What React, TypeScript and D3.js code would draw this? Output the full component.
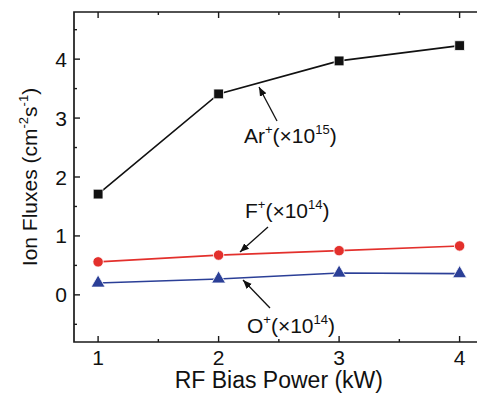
import { useEffect, useRef } from 'react';
import * as d3 from 'd3';

const powers = [1, 2, 3, 4];
const arFlux = [1.71, 3.41, 3.97, 4.23];
const fFlux = [0.56, 0.675, 0.75, 0.83];
const oFlux = [0.2, 0.27, 0.37, 0.36];
const xTicks = [1, 2, 3, 4];
const yTicks = [0, 1, 2, 3, 4];

const W = 477;
const H = 397;
const FONT = '"Liberation Sans", Arial, sans-serif';

export default function App() {
  const ref = useRef<SVGSVGElement>(null);

  useEffect(() => {
    if (!ref.current) return;
    const svg = d3.select(ref.current);
    svg.selectAll('*').remove();

    const left = 74, right = 483.7, top = 12, bottom = 342;
    const x = d3.scaleLinear().domain([0.8, 4.2]).range([left, right]);
    const y = d3.scaleLinear().domain([-0.8, 4.8]).range([bottom, top]);

    const defs = svg.append('defs');
    defs.append('marker')
      .attr('id', 'arrow')
      .attr('viewBox', '0 0 10 10')
      .attr('refX', 10)
      .attr('refY', 5)
      .attr('markerWidth', 9)
      .attr('markerHeight', 9)
      .attr('markerUnits', 'userSpaceOnUse')
      .attr('orient', 'auto')
      .append('path')
      .attr('d', 'M0,1 L10,5 L0,9 Z')
      .attr('fill', '#111');

    const axisColor = '#1a1a1a';
    // frame (right side falls outside the picture)
    svg.append('path')
      .attr('d', `M${right},${top} H${left} V${bottom} H${right}`)
      .attr('fill', 'none')
      .attr('stroke', axisColor)
      .attr('stroke-width', 1.7);

    const xMinor = d3.range(1.5, 4.2, 1);
    const yMinor = d3.range(-0.5, 4.8, 1);
    const ticks = svg.append('g').attr('stroke', axisColor).attr('stroke-width', 1.4);
    xTicks.forEach((t) => {
      ticks.append('line').attr('x1', x(t)).attr('x2', x(t)).attr('y1', bottom).attr('y2', bottom - 6);
      ticks.append('line').attr('x1', x(t)).attr('x2', x(t)).attr('y1', top).attr('y2', top + 6);
    });
    xMinor.forEach((t) => {
      ticks.append('line').attr('x1', x(t)).attr('x2', x(t)).attr('y1', bottom).attr('y2', bottom - 3);
      ticks.append('line').attr('x1', x(t)).attr('x2', x(t)).attr('y1', top).attr('y2', top + 3);
    });
    yTicks.forEach((t) => {
      ticks.append('line').attr('x1', left).attr('x2', left + 6).attr('y1', y(t)).attr('y2', y(t));
    });
    yMinor.forEach((t) => {
      ticks.append('line').attr('x1', left).attr('x2', left + 3).attr('y1', y(t)).attr('y2', y(t));
    });

    const labels = svg.append('g').attr('font-family', FONT).attr('fill', '#111');
    xTicks.forEach((t) => {
      labels.append('text').attr('x', x(t)).attr('y', 365).attr('text-anchor', 'middle')
        .attr('font-size', 21).text(t);
    });
    yTicks.forEach((t) => {
      labels.append('text').attr('x', 67).attr('y', y(t) + 7.5).attr('text-anchor', 'end')
        .attr('font-size', 21).text(t);
    });

    labels.append('text').attr('x', (left + right) / 2).attr('y', 388).attr('text-anchor', 'middle')
      .attr('font-size', 23).text('RF Bias Power (kW)');

    const yt = labels.append('text')
      .attr('transform', `translate(37,${(top + bottom) / 2}) rotate(-90)`)
      .attr('text-anchor', 'middle')
      .attr('font-size', 21);
    yt.append('tspan').text('Ion Fluxes (cm');
    yt.append('tspan').attr('font-size', 13).attr('dy', -9).text('-2');
    yt.append('tspan').attr('dy', 9).text('s');
    yt.append('tspan').attr('font-size', 13).attr('dy', -9).text('-1');
    yt.append('tspan').attr('dy', 9).text(')');

    const series = [
      { values: arFlux, color: '#111', shape: d3.symbolSquare, size: 95 },
      { values: fFlux, color: '#e3302c', shape: d3.symbolCircle, size: 85 },
      { values: oFlux, color: '#2b3f97', shape: d3.symbolTriangle, size: 85 },
    ];
    series.forEach((s) => {
      const line = d3.line<number>().x((_, i) => x(powers[i])).y((d) => y(d));
      svg.append('path').attr('d', line(s.values)).attr('fill', 'none')
        .attr('stroke', s.color).attr('stroke-width', 1.6);
      svg.append('g').selectAll('path').data(s.values).enter().append('path')
        .attr('transform', (d, i) => `translate(${x(powers[i])},${y(d)})`)
        .attr('d', d3.symbol().type(s.shape).size(s.size)())
        .attr('fill', s.color)
        .attr('stroke', '#fff')
        .attr('stroke-width', 0.8);
    });

    const notes = [
      { tx: 244, ty: 143, ion: 'Ar', exp: '15', from: [277, 121], to: [259, 87] },
      { tx: 245, ty: 218, ion: 'F', exp: '14', from: [268, 227], to: [240, 252] },
      { tx: 247, ty: 333, ion: 'O', exp: '14', from: [270, 308], to: [243, 280] },
    ];
    notes.forEach((n) => {
      svg.append('line')
        .attr('x1', n.from[0]).attr('y1', n.from[1]).attr('x2', n.to[0]).attr('y2', n.to[1])
        .attr('stroke', '#111').attr('stroke-width', 1.3)
        .attr('marker-end', 'url(#arrow)');
      const t = labels.append('text').attr('x', n.tx).attr('y', n.ty).attr('font-size', 21);
      t.append('tspan').text(n.ion);
      t.append('tspan').attr('font-size', 13).attr('dy', -9).text('+');
      t.append('tspan').attr('dy', 9).text('(×10');
      t.append('tspan').attr('font-size', 13).attr('dy', -9).text(n.exp);
      t.append('tspan').attr('dy', 9).text(')');
    });
  }, []);

  return (
    <svg ref={ref} width={W} height={H}
      style={{ position: 'absolute', left: 0, top: 0, background: '#fff' }} />
  );
}
